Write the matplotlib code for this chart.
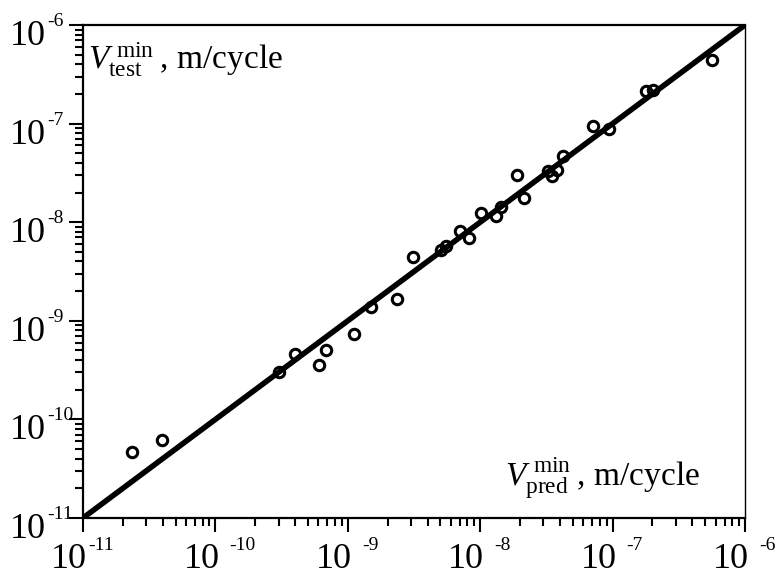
import matplotlib
matplotlib.use("Agg")
import matplotlib.pyplot as plt
import matplotlib.transforms as mtransforms
import numpy as np
from matplotlib.ticker import FixedLocator, LogLocator, NullFormatter

plt.rcParams['font.family'] = ['Liberation Serif', 'DejaVu Serif']
plt.rcParams['mathtext.fontset'] = 'custom'
plt.rcParams['mathtext.rm'] = 'Liberation Serif'
plt.rcParams['mathtext.it'] = 'Liberation Serif:italic'

# predicted vs measured minimum crack growth rate, m/cycle (log10)
log_pred = [-10.632, -10.401, -9.517, -9.399, -9.215, -9.165, -8.952, -8.825,
            -8.631, -8.505, -8.296, -8.258, -8.150, -8.082, -7.992, -7.881,
            -7.845, -7.720, -7.669, -7.489, -7.460, -7.422, -7.375, -7.146,
            -7.029, -6.749, -6.693, -6.252]
log_test = [-10.328, -10.209, -9.519, -9.332, -9.448, -9.296, -9.129, -8.855,
            -8.784, -8.356, -8.282, -8.246, -8.091, -8.163, -7.905, -7.940,
            -7.843, -7.518, -7.758, -7.481, -7.531, -7.471, -7.329, -7.029,
            -7.058, -6.674, -6.659, -6.355]

v_pred = 10.0 ** np.array(log_pred)
v_test = 10.0 ** np.array(log_test)

decades = [1e-11, 1e-10, 1e-9, 1e-8, 1e-7, 1e-6]
exps = ['-11', '-10', '-9', '-8', '-7', '-6']

fig = plt.figure(figsize=(7.82, 5.76), dpi=100)
ax = fig.add_axes([0.1061, 0.1007, 0.8466, 0.8559])

# line of perfect agreement
ax.plot([1e-11, 1e-6], [1e-11, 1e-6], color='black', lw=4, solid_capstyle='round', zorder=2)
ax.plot(v_pred, v_test, 'o', ms=7.5, mfc='none', mec='black', mew=2.2, zorder=3)

ax.set_xscale('log')
ax.set_yscale('log')
ax.set_xlim(1e-11, 1e-6)
ax.set_ylim(1e-11, 1e-6)

ax.xaxis.set_major_locator(FixedLocator(decades))
ax.yaxis.set_major_locator(FixedLocator(decades))
for axis in (ax.xaxis, ax.yaxis):
    axis.set_major_formatter(NullFormatter())
    axis.set_minor_locator(LogLocator(base=10, subs=np.arange(2, 10), numticks=20))
    axis.set_minor_formatter(NullFormatter())

ax.tick_params(which='both', direction='out', width=1.5)
ax.tick_params(which='major', length=10)
ax.tick_params(which='minor', length=6)

for side in ('left', 'bottom', 'top'):
    ax.spines[side].set_linewidth(1.6)
ax.spines['right'].set_linewidth(1.0)

# decade labels: big "10" with a small exponent
big, small = 26, 14
xtr = mtransforms.blended_transform_factory(ax.transData, ax.transAxes)
ytr = mtransforms.blended_transform_factory(ax.transAxes, ax.transData)
for i, (d, e) in enumerate(zip(decades, exps)):
    # y axis
    ax.annotate('10', (0, d), xycoords=ytr, xytext=(-37, -20), textcoords='offset pixels',
                ha='right', va='baseline', fontsize=big, annotation_clip=False)
    ax.annotate(e, (0, d), xycoords=ytr, xytext=(-36, -1), textcoords='offset pixels',
                ha='left', va='baseline', fontsize=small, annotation_clip=False)
    # x axis
    gap = 1 if i == 0 else 10
    ax.annotate('10', (d, 0), xycoords=xtr, xytext=(4, -50), textcoords='offset pixels',
                ha='right', va='baseline', fontsize=big, annotation_clip=False)
    ax.annotate(e, (d, 0), xycoords=xtr, xytext=(4 + gap, -32), textcoords='offset pixels',
                ha='left', va='baseline', fontsize=small, annotation_clip=False)

ax.text(0.008, 0.968, r'$V_{\mathrm{test}}^{\mathrm{\ min}}\;$, m/cycle', transform=ax.transAxes,
        fontsize=24, ha='left', va='top')
ax.text(0.932, 0.035, r'$V_{\mathrm{pred}}^{\mathrm{\ min}}\;$, m/cycle', transform=ax.transAxes,
        fontsize=24, ha='right', va='bottom')

fig.savefig('out.png', dpi=100)
